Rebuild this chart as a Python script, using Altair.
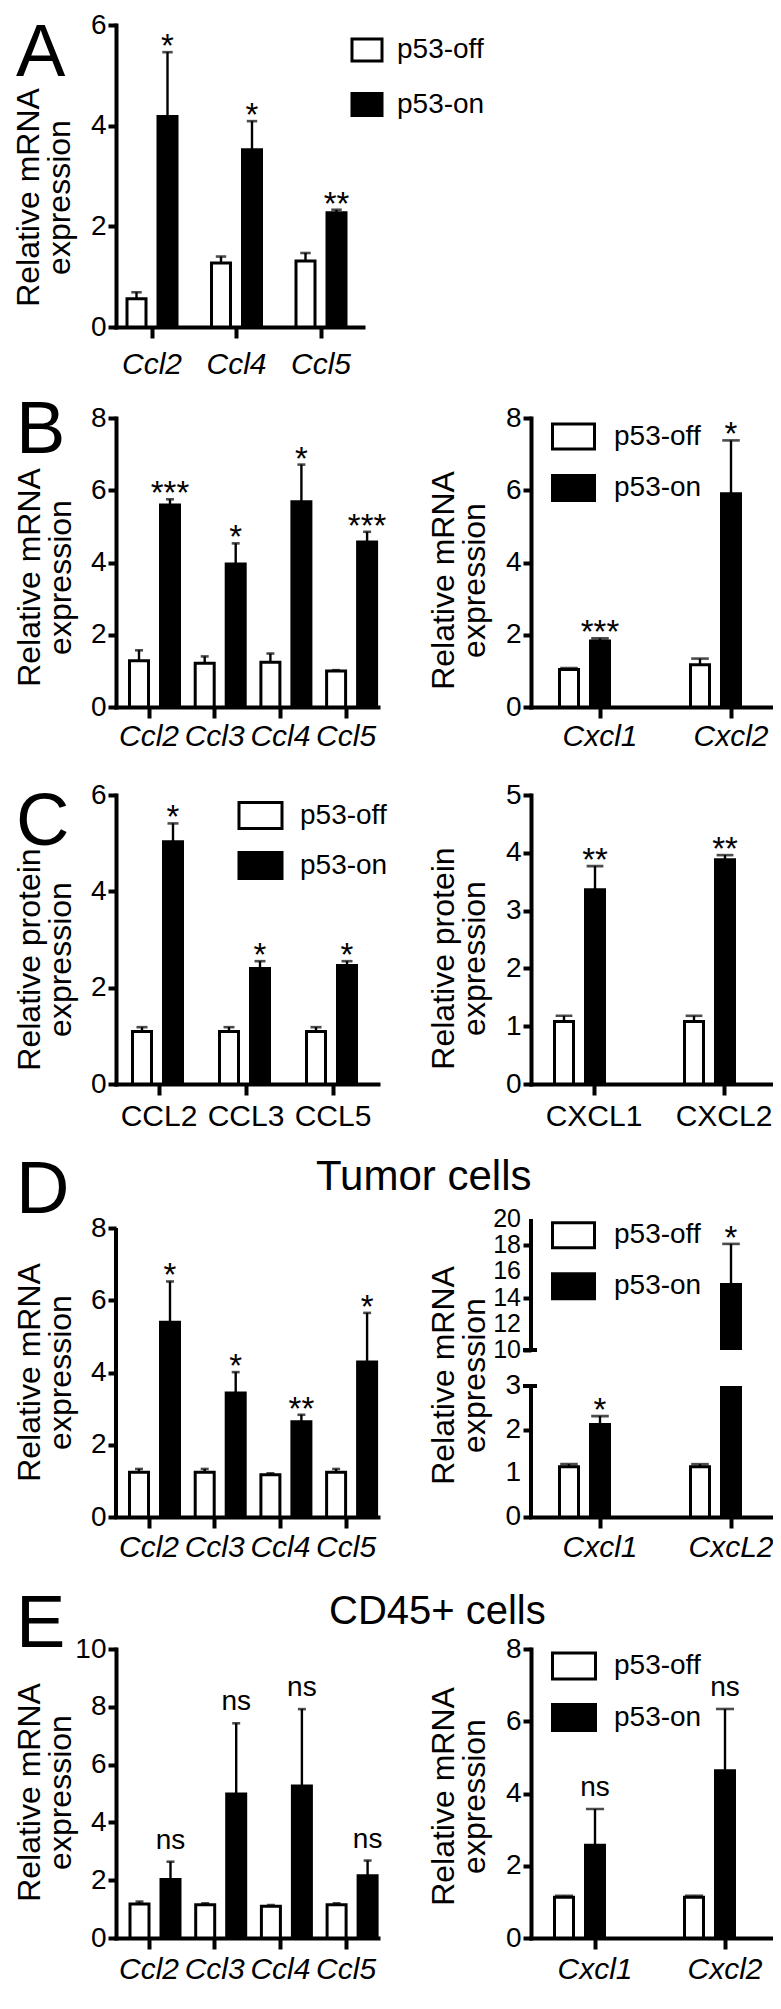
import altair as alt
import pandas as pd

FONT = "Liberation Sans"
GROUPS = ["p53-off", "p53-on"]
FILLS = ["white", "black"]

# ---------------- data ----------------
# A  relative mRNA
A_genes = ["Ccl2", "Ccl4", "Ccl5"]
A_off = [0.56, 1.27, 1.31]
A_off_sem = [0.13, 0.13, 0.16]
A_on = [4.18, 3.52, 2.27]
A_on_sem = [1.28, 0.57, 0.06]
A_sig = ["*", "*", "**"]
A_ticks = [0, 2, 4, 6]

# B left
B1_genes = ["Ccl2", "Ccl3", "Ccl4", "Ccl5"]
B1_off = [1.28, 1.21, 1.24, 1.00]
B1_off_sem = [0.29, 0.19, 0.24, 0.02]
B1_on = [5.59, 3.96, 5.68, 4.57]
B1_on_sem = [0.16, 0.57, 1.03, 0.28]
B1_sig = ["***", "*", "*", "***"]
B1_ticks = [0, 2, 4, 6, 8]

# B right
B2_genes = ["Cxcl1", "Cxcl2"]
B2_off = [1.04, 1.17]
B2_off_sem = [0.04, 0.17]
B2_on = [1.83, 5.90]
B2_on_sem = [0.07, 1.48]
B2_sig = ["***", "*"]
B2_ticks = [0, 2, 4, 6, 8]

# C left  relative protein
C1_genes = ["CCL2", "CCL3", "CCL5"]
C1_off = [1.09, 1.09, 1.09]
C1_off_sem = [0.09, 0.09, 0.09]
C1_on = [5.03, 2.40, 2.46]
C1_on_sem = [0.38, 0.15, 0.09]
C1_sig = ["*", "*", "*"]
C1_ticks = [0, 2, 4, 6]

# C right
C2_genes = ["CXCL1", "CXCL2"]
C2_off = [1.08, 1.08]
C2_off_sem = [0.10, 0.10]
C2_on = [3.36, 3.88]
C2_on_sem = [0.41, 0.08]
C2_sig = ["**", "**"]
C2_ticks = [0, 1, 2, 3, 4, 5]

# D left  tumor cells
D1_genes = ["Ccl2", "Ccl3", "Ccl4", "Ccl5"]
D1_off = [1.24, 1.24, 1.17, 1.24]
D1_off_sem = [0.09, 0.09, 0.04, 0.09]
D1_on = [5.39, 3.43, 2.64, 4.29]
D1_on_sem = [1.13, 0.58, 0.19, 1.36]
D1_sig = ["*", "*", "**", "*"]
D1_ticks = [0, 2, 4, 6, 8]

# D right  tumor cells (broken axis)
D2_genes = ["Cxcl1", "CxcL2"]
D2_off = [1.15, 1.15]
D2_off_sem = [0.06, 0.06]
D2_on = [2.12, 15.0]
D2_on_sem = [0.19, 3.1]
D2_sig = ["*", "*"]
D2_ticks = [0, 1, 2, 3, 10, 12, 14, 16, 18, 20]
D2_break = [3, 10]
D2_top = 20

# E left  CD45+ cells
E1_genes = ["Ccl2", "Ccl3", "Ccl4", "Ccl5"]
E1_off = [1.18, 1.15, 1.10, 1.15]
E1_off_sem = [0.08, 0.05, 0.04, 0.05]
E1_on = [2.02, 4.98, 5.26, 2.15]
E1_on_sem = [0.62, 2.45, 2.66, 0.53]
E1_sig = ["ns", "ns", "ns", "ns"]
E1_ticks = [0, 2, 4, 6, 8, 10]

# E right
E2_genes = ["Cxcl1", "Cxcl2"]
E2_off = [1.13, 1.13]
E2_off_sem = [0.04, 0.04]
E2_on = [2.57, 4.63]
E2_on_sem = [1.00, 1.71]
E2_sig = ["ns", "ns"]
E2_ticks = [0, 2, 4, 6, 8]

MRNA = ["Relative mRNA", "expression"]
PROT = ["Relative protein", "expression"]


def frame(genes, off, off_sem, on, on_sem, sig):
    rows = []
    for i, g in enumerate(genes):
        rows.append({"gene": g, "group": GROUPS[0], "mean": off[i],
                     "upper": off[i] + off_sem[i], "sig": ""})
        rows.append({"gene": g, "group": GROUPS[1], "mean": on[i],
                     "upper": on[i] + on_sem[i], "sig": sig[i]})
    return pd.DataFrame(rows)


def note(text, x, y, size, align="left"):
    return alt.Chart(pd.DataFrame({"t": [text]})).mark_text(
        align=align, baseline="alphabetic", fontSize=size, color="black"
    ).encode(text="t:N", x=alt.value(x), y=alt.value(y))


def legend(cx, cy1, spacing, bw, bh, label_dx):
    r = bh / 2.0
    k = (bw / 2.0) / r
    path = f"M{-k:.3f},-1L{k:.3f},-1L{k:.3f},1L{-k:.3f},1Z"
    entry_h = max(2 * r + 3, 28)
    return alt.Legend(title=None, orient="none", legendX=cx - r,
                      legendY=cy1 - entry_h / 2.0, symbolType=path,
                      symbolSize=(2 * r) ** 2, symbolStrokeColor="black",
                      symbolStrokeWidth=3, labelFontSize=28,
                      labelOffset=label_dx - r - 2, rowPadding=spacing - entry_h,
                      padding=0, labelFont=FONT, labelColor="black")


def panel(df, genes, W, H, ydomain, yticks, step, c0, group_w, bar_w, ytitle,
          title_x, title_y, italic=True, xlabel_pad=4, leg=None, sig_dy=5,
          sig_size=33, yrange=None, show_domain=True, manual_labels=None,
          clip=False, extras=(), after_err=()):
    n = len(genes)
    g = group_w - 3.0
    bw = bar_w - 3.0
    pi = 1 - g / step
    po = max(0.0, (W / step - n + pi) / 2)
    free = W - step * (n - pi)
    al = 0.5 if free <= 0 else min(1.0, max(0.0, (c0 - g / 2) / free))
    pi2 = (g - 2 * bw) / (g - bw)

    x = alt.X("gene:N",
              scale=alt.Scale(domain=genes, paddingInner=pi, paddingOuter=po, align=al),
              axis=alt.Axis(title=None, labelAngle=0, labelFontSize=30,
                            labelFontStyle="italic" if italic else "normal",
                            labelPadding=xlabel_pad, tickSize=11, labelOverlap=False))
    xo = alt.XOffset("group:N",
                     scale=alt.Scale(domain=GROUPS, paddingInner=pi2, paddingOuter=0))
    skw = dict(domain=ydomain, nice=False, zero=False)
    if yrange is not None:
        skw["range"] = yrange
    ysc = alt.Scale(**skw)
    yax = alt.Axis(values=yticks, tickSize=8, labelPadding=2, labelOverlap=False,
                   labels=manual_labels is None,
                   labelFontSize=28, domain=show_domain, title=ytitle,
                   titleX=title_x, titleY=title_y, titleFontSize=32,
                   titleLineHeight=31, titleAngle=270, titleAlign="center",
                   titleBaseline="alphabetic")
    base = alt.Chart(df)
    bars = base.mark_bar(stroke="black", strokeWidth=3, clip=clip).encode(
        x=x, xOffset=xo,
        y=alt.Y("mean:Q", scale=ysc, axis=yax, stack=None),
        fill=alt.Fill("group:N", scale=alt.Scale(domain=GROUPS, range=FILLS),
                      legend=leg))
    rules = base.mark_rule(strokeWidth=2.4, color="black").encode(
        x=x, xOffset=xo, y=alt.Y("mean:Q", scale=ysc, axis=yax), y2="upper:Q")
    caps = base.mark_tick(thickness=2.6, size=bw * 0.55, color="black").encode(
        x=x, xOffset=xo, y=alt.Y("upper:Q", scale=ysc, axis=yax))
    stars = base.transform_filter("datum.sig != ''").mark_text(
        fontSize=sig_size, dy=sig_dy, baseline="alphabetic", align="center",
        color="black").encode(
        x=x, xOffset=xo, y=alt.Y("upper:Q", scale=ysc, axis=yax), text="sig:N")
    layers = [bars, rules, caps, *after_err, stars, *extras]
    if manual_labels is not None:
        thr, small, big = manual_labels
        labs = alt.Chart(pd.DataFrame({"v": yticks})).mark_text(
            align="right", baseline="middle", color="black").encode(
            x=alt.value(-10), y=alt.Y("v:Q", scale=ysc, axis=yax), text="v:Q",
            size=alt.condition(f"datum.v >= {thr}", alt.value(small), alt.value(big)))
        layers.append(labs)
    return alt.layer(*layers).properties(width=W, height=H)


one = pd.DataFrame({"v": [0]})


def blank(h, w=1):
    return alt.Chart(one).mark_point(opacity=0).encode(
        x=alt.X("v:Q", axis=None), y=alt.Y("v:Q", axis=None)
    ).properties(width=w, height=h)


TX = -77   # baseline of first title line, relative to the y axis
LET = 74   # panel letter size

# ---------------- panels ----------------
pA = panel(frame(A_genes, A_off, A_off_sem, A_on, A_on_sem, A_sig), A_genes,
           W=247, H=302, ydomain=[0, 6], yticks=A_ticks, step=84.5, c0=36,
           group_w=53, bar_w=22, ytitle=MRNA, title_x=TX - 1, title_y=172,
           xlabel_pad=11, leg=legend(248, 25, 48.5, 30, 22, 29),
           extras=[note("A", -100, 51, LET)])

pB1 = panel(frame(B1_genes, B1_off, B1_off_sem, B1_on, B1_on_sem, B1_sig), B1_genes,
            W=262, H=289, ydomain=[0, 8], yticks=B1_ticks, step=65.7, c0=33,
            group_w=42, bar_w=17.5, ytitle=MRNA, title_x=TX, title_y=159,
            xlabel_pad=3, extras=[note("B", -100, 35, LET)])

pB2 = panel(frame(B2_genes, B2_off, B2_off_sem, B2_on, B2_on_sem, B2_sig), B2_genes,
            W=250, H=289, ydomain=[0, 8], yticks=B2_ticks, step=131, c0=69,
            group_w=84, bar_w=35, ytitle=MRNA, title_x=TX - 1, title_y=162,
            xlabel_pad=3, leg=legend(41, 18.5, 41.5, 42, 25, 41))

pC1 = panel(frame(C1_genes, C1_off, C1_off_sem, C1_on, C1_on_sem, C1_sig), C1_genes,
            W=262, H=289, ydomain=[0, 6], yticks=C1_ticks, step=87, c0=43,
            group_w=56, bar_w=23, ytitle=PROT, title_x=TX, title_y=164,
            italic=False, xlabel_pad=6, leg=legend(143, 20.5, 40, 43, 26, 40),
            extras=[note("C", -100, 50, LET)])

pC2 = panel(frame(C2_genes, C2_off, C2_off_sem, C2_on, C2_on_sem, C2_sig), C2_genes,
            W=250, H=289, ydomain=[0, 5], yticks=C2_ticks, step=130, c0=63,
            group_w=82, bar_w=33.5, ytitle=PROT, title_x=TX - 1, title_y=163,
            italic=False, xlabel_pad=6)

# D left: taller plot so that its top lines up with the broken axis on the right
D1_H = 298
D1_top = 8 * D1_H / 289.0
d1_axis = alt.Chart(one).mark_rule(strokeWidth=4, color="black").encode(
    x=alt.value(0), y=alt.datum(0), y2=alt.datum(8))
pD1 = panel(frame(D1_genes, D1_off, D1_off_sem, D1_on, D1_on_sem, D1_sig), D1_genes,
            W=262, H=D1_H, ydomain=[0, D1_top], yticks=D1_ticks, step=65.7, c0=33,
            group_w=42, bar_w=17.5, ytitle=MRNA, title_x=TX, title_y=153,
            xlabel_pad=4, show_domain=False,
            extras=[d1_axis, note("D", -100, -6, LET), note("Tumor cells", 200, -29, 42)])

# D right: piecewise (broken) y scale
D2_H = 298
gap_rect = alt.Chart(one).mark_rect(fill="white").encode(
    x=alt.value(2), x2=alt.value(260), y=alt.datum(D2_break[0]), y2=alt.datum(D2_break[1]))
ax_lo = alt.Chart(one).mark_rule(strokeWidth=4, color="black").encode(
    x=alt.value(0), y=alt.datum(0), y2=alt.datum(D2_break[0]))
ax_hi = alt.Chart(one).mark_rule(strokeWidth=4, color="black").encode(
    x=alt.value(0), y=alt.datum(D2_break[1]), y2=alt.datum(D2_top))
brk_lo = alt.Chart(one).mark_rule(strokeWidth=4, color="black").encode(
    x=alt.value(-8), x2=alt.value(6), y=alt.datum(D2_break[0]))
brk_hi = alt.Chart(one).mark_rule(strokeWidth=4, color="black").encode(
    x=alt.value(-8), x2=alt.value(6), y=alt.datum(D2_break[1]))
pD2 = panel(frame(D2_genes, D2_off, D2_off_sem, D2_on, D2_on_sem, D2_sig), D2_genes,
            W=250, H=D2_H, ydomain=[0, D2_break[0], D2_break[1], D2_top],
            yrange=[D2_H, D2_H - 131, D2_H - 167, 0], yticks=D2_ticks,
            step=131, c0=69, group_w=84, bar_w=35, ytitle=MRNA, title_x=TX - 1,
            title_y=156, xlabel_pad=4, show_domain=False,
            manual_labels=(D2_break[1], 25, 28),
            leg=legend(41, 16.2, 41, 42, 25, 41),
            after_err=[gap_rect], extras=[ax_lo, ax_hi, brk_lo, brk_hi])

pE1 = panel(frame(E1_genes, E1_off, E1_off_sem, E1_on, E1_on_sem, E1_sig), E1_genes,
            W=262, H=289, ydomain=[0, 10], yticks=E1_ticks, step=65.7, c0=33,
            group_w=41, bar_w=17.5, ytitle=MRNA, title_x=TX, title_y=143,
            xlabel_pad=5, sig_dy=-13, sig_size=28,
            extras=[note("E", -100, -2, LET), note("CD45+ cells", 213, -25, 40)])

pE2 = panel(frame(E2_genes, E2_off, E2_off_sem, E2_on, E2_on_sem, E2_sig), E2_genes,
            W=250, H=289, ydomain=[0, 8], yticks=E2_ticks, step=130, c0=64,
            group_w=84, bar_w=36, ytitle=MRNA, title_x=TX - 1, title_y=147,
            xlabel_pad=5, sig_dy=-13, sig_size=28,
            leg=legend(41.5, 17, 41.5, 43, 26, 40.5))

cells = [pA, blank(1),
         blank(91), blank(91),
         pB1, pB2,
         blank(88), blank(88),
         pC1, pC2,
         blank(135), blank(135),
         pD1, pD2,
         blank(132), blank(132),
         pE1, pE2]

PAD_L, PAD_T = 108, 17
SVG_W, SVG_H = 765, 1993

chart = alt.concat(*cells, columns=2, spacing={"row": 0, "column": 153},
                   bounds="flush", align="each",
                   autosize=alt.AutoSizeParams(type="none"),
                   padding={"left": PAD_L, "top": PAD_T,
                            "right": SVG_W - PAD_L, "bottom": SVG_H - PAD_T}
                   ).resolve_scale(fill="independent").resolve_legend(fill="independent"
                   ).configure(font=FONT, background="white"
                   ).configure_view(stroke=None
                   ).configure_axis(domainColor="black", domainWidth=4, tickColor="black",
                                    tickWidth=4, labelColor="black", titleColor="black",
                                    labelFont=FONT, titleFont=FONT, titleFontWeight="normal",
                                    grid=False, labelOverlap=False, labelFlush=False,
                                    domainCap="square"
                   ).configure_text(font=FONT)

chart.save("out.html", embed_options={"renderer": "svg", "actions": False})
